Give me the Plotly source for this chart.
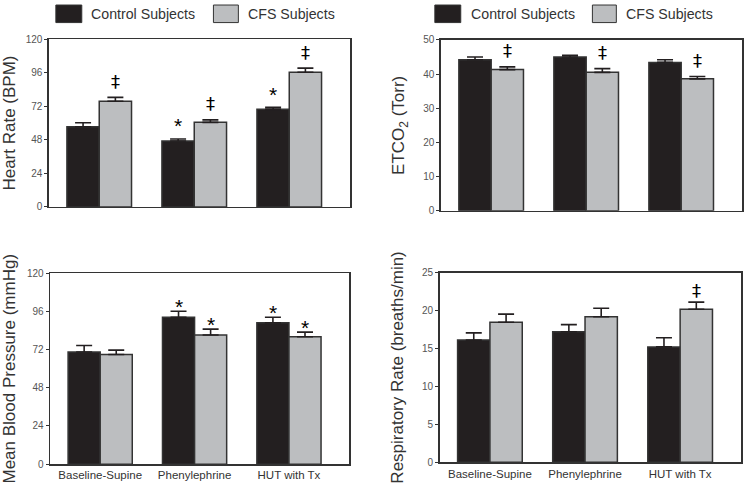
import plotly.graph_objects as go

# ---------------- data ----------------
categories = ["Baseline-Supine", "Phenylephrine", "HUT with Tx"]
x_pos = [1, 2, 3]

hr_control = [57.4, 47.2, 69.8]
hr_control_err = [2.8, 1.4, 1.4]
hr_cfs = [75.6, 60.5, 96.3]
hr_cfs_err = [2.8, 1.8, 3.0]

etco2_control = [44.2, 45.0, 43.4]
etco2_control_err = [0.8, 0.5, 0.8]
etco2_cfs = [41.3, 40.5, 38.6]
etco2_cfs_err = [0.8, 1.1, 0.7]

mbp_control = [70.5, 92.4, 88.9]
mbp_control_err = [4.1, 3.7, 3.5]
mbp_cfs = [68.9, 81.2, 80.1]
mbp_cfs_err = [2.8, 3.7, 2.9]

rr_control = [16.1, 17.2, 15.2]
rr_control_err = [0.95, 0.94, 1.2]
rr_cfs = [18.45, 19.17, 20.16]
rr_cfs_err = [1.07, 1.12, 0.94]

# significance marks: (series, category index, symbol)
hr_marks = [("cfs", 0, "‡"), ("cfs", 1, "‡"), ("cfs", 2, "‡"), ("ctrl", 1, "*"), ("ctrl", 2, "*")]
etco2_marks = [("cfs", 0, "‡"), ("cfs", 1, "‡"), ("cfs", 2, "‡")]
mbp_marks = [("ctrl", 1, "*"), ("ctrl", 2, "*"), ("cfs", 1, "*"), ("cfs", 2, "*")]
rr_marks = [("cfs", 2, "‡")]

legend_names = ["Control Subjects", "CFS Subjects"]

# ---------------- style ----------------
FONT = "Liberation Sans, Arial, sans-serif"
CTRL_COLOR = "#231f20"
CFS_COLOR = "#bcbec0"
EDGE = "#333333"
BAR_W = 0.34

W, H = 744, 489

panels = [
    dict(ctrl=hr_control, ctrl_err=hr_control_err, cfs=hr_cfs, cfs_err=hr_cfs_err,
         marks=hr_marks, title="Heart Rate (BPM)", yrange=[0, 120], dtick=24,
         xd=[48 / W, 350 / W], yd=[1 - 206 / H, 1 - 34 / H], xlabels=False,
         star_shift=13, dag_shift=16),
    dict(ctrl=etco2_control, ctrl_err=etco2_control_err, cfs=etco2_cfs, cfs_err=etco2_cfs_err,
         marks=etco2_marks, title="ETCO<sub>2</sub> (Torr)", yrange=[0, 50], dtick=10,
         xd=[441 / W, 743 / W], yd=[1 - 210 / H, 1 - 34.7 / H], xlabels=False,
         star_shift=9, dag_shift=16),
    dict(ctrl=mbp_control, ctrl_err=mbp_control_err, cfs=mbp_cfs, cfs_err=mbp_cfs_err,
         marks=mbp_marks, title="Mean Blood Pressure (mmHg)", yrange=[0, 120], dtick=24,
         xd=[49.3 / W, 349.3 / W], yd=[1 - 469.7 / H, 1 - 274 / H], xlabels=True,
         star_shift=5, dag_shift=12),
    dict(ctrl=rr_control, ctrl_err=rr_control_err, cfs=rr_cfs, cfs_err=rr_cfs_err,
         marks=rr_marks, title="Respiratory Rate (breaths/min)", yrange=[0, 25], dtick=5,
         xd=[439.7 / W, 742 / W], yd=[1 - 467.7 / H, 1 - 273.3 / H], xlabels=True,
         star_shift=5, dag_shift=12),
]

fig = go.Figure()
annotations = []
layout_axes = {}

for i, p in enumerate(panels):
    n = i + 1
    xa = "x" if n == 1 else f"x{n}"
    ya = "y" if n == 1 else f"y{n}"
    for key, color, off in (("ctrl", CTRL_COLOR, -BAR_W / 2), ("cfs", CFS_COLOR, BAR_W / 2)):
        fig.add_trace(go.Bar(
            x=[v + off for v in x_pos], y=p[key], width=BAR_W,
            marker=dict(color=color, line=dict(color=EDGE, width=1.5)),
            error_y=dict(type="data", symmetric=False, array=p[key + "_err"],
                         arrayminus=[0] * 3, color=CTRL_COLOR, thickness=1.6, width=8),
            xaxis=xa, yaxis=ya, showlegend=False, hoverinfo="skip",
        ))
    for series, idx, sym in p["marks"]:
        off = -BAR_W / 2 if series == "ctrl" else BAR_W / 2
        top = p[series][idx] + p[series + "_err"][idx]
        if sym == "*":
            annotations.append(dict(x=x_pos[idx] + off, y=top, xref=xa, yref=ya, text="*",
                                    showarrow=False, yanchor="middle", yshift=p["star_shift"],
                                    font=dict(family=FONT, size=21, color="#000000")))
        else:
            annotations.append(dict(x=x_pos[idx] + off, y=top, xref=xa, yref=ya, text="‡",
                                    showarrow=False, yanchor="middle", yshift=p["dag_shift"],
                                    font=dict(family="DejaVu Sans, Liberation Sans, sans-serif",
                                              size=18, color="#000000")))
    xkey = "xaxis" if n == 1 else f"xaxis{n}"
    ykey = "yaxis" if n == 1 else f"yaxis{n}"
    layout_axes[xkey] = dict(
        domain=p["xd"], anchor=ya, range=[0.47, 3.64],
        tickvals=x_pos, ticktext=categories, showticklabels=p["xlabels"], ticks="",
        tickfont=dict(family=FONT, size=11.5, color="#333333"),
        showline=True, linecolor=EDGE, linewidth=1.5, mirror=True,
        showgrid=False, zeroline=False, fixedrange=True,
    )
    layout_axes[ykey] = dict(
        domain=p["yd"], anchor=xa, range=p["yrange"], dtick=p["dtick"],
        ticks="outside", ticklen=3, tickcolor=EDGE, tickwidth=1,
        tickfont=dict(family=FONT, size=10, color="#555555"),
        title=dict(text=p["title"], font=dict(family=FONT, size=17, color="#333333"), standoff=14),
        showline=True, linecolor=EDGE, linewidth=1.5, mirror=True,
        showgrid=False, zeroline=False, fixedrange=True,
    )

# legends (drawn as layout shapes + text, one above each column)
shapes = []
legend_layout = [
    [(55, 81, 88), (213, 238, 246)],
    [(435, 461, 469), (593, 617, 625)],
]
for col in legend_layout:
    for (x0, x1, tx), color, name in zip(col, [CTRL_COLOR, CFS_COLOR], legend_names):
        shapes.append(dict(type="rect", xref="paper", yref="paper",
                           x0=x0 / W, x1=x1 / W, y0=1 - 17 / H, y1=1 + 1 / H,
                           fillcolor=color, line=dict(color=EDGE, width=1)))
        annotations.append(dict(x=tx / W, y=1 - 8 / H, xref="paper", yref="paper",
                                xanchor="left", yanchor="middle", text=name, showarrow=False,
                                font=dict(family=FONT, size=14.2, color="#333333")))

fig.update_layout(
    width=W, height=H, margin=dict(l=0, r=0, t=0, b=0),
    paper_bgcolor="white", plot_bgcolor="white",
    barmode="overlay", showlegend=False, hovermode=False,
    font=dict(family=FONT),
    annotations=annotations, shapes=shapes,
    **layout_axes,
)

fig.write_html("out.html", config={"displayModeBar": False, "staticPlot": True},
               post_script="document.body.style.margin='0';document.body.style.overflow='hidden';")
